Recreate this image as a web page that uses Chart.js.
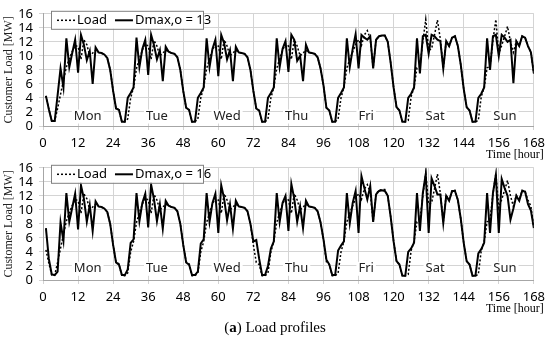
<!DOCTYPE html>
<html>
<head>
<meta charset="utf-8">
<script src="https://cdn.jsdelivr.net/npm/chart.js@4"></script>
<style>
  body { margin: 0; background: #fff; width: 550px; height: 344px; position: relative; overflow: hidden; }
  canvas { position: absolute; left: 0; }
  #caption { position: absolute; left: 0; width: 550px; top: 319px; text-align: center;
             font: 15px "Liberation Serif", "DejaVu Serif", serif; color: #000; }
</style>
</head>
<body>
<canvas id="chartTop" width="550" height="160" style="top:0px"></canvas>
<canvas id="chartBottom" width="550" height="160" style="top:154px"></canvas>
<div id="caption">(<b>a</b>) Load profiles</div>
<script>
// hourly values, hour 1..168, one line per day (Mon..Sun)
const hours = Array.from({ length: 168 }, (_, i) => i + 1);

const loadMW = [
  4.3, 2.4, 0.7, 0.7, 2.5, 4.5, 6.5, 8.4, 9.6, 10.6, 11.5, 11.3, 9.5, 12.3, 11.6, 10.0, 10.4, 10.8, 10.5, 10.4, 10.2, 9.7, 8.0, 5.0,
  2.5, 2.3, 0.6, 0.6, 1.0, 4.0, 5.5, 8.2, 9.6, 10.8, 11.7, 11.4, 9.5, 12.2, 11.4, 10.0, 10.4, 10.8, 10.6, 10.4, 10.3, 9.8, 8.0, 5.0,
  2.6, 2.3, 0.6, 0.6, 1.0, 4.0, 5.5, 8.2, 9.6, 10.8, 11.7, 11.4, 9.5, 12.3, 11.4, 10.0, 10.4, 10.8, 10.5, 10.4, 10.3, 9.8, 8.0, 5.0,
  2.5, 2.2, 0.6, 0.6, 1.0, 4.0, 5.5, 8.2, 9.6, 10.8, 11.7, 11.4, 9.5, 12.3, 11.4, 10.0, 10.4, 10.8, 10.5, 10.4, 10.3, 9.8, 8.2, 5.8,
  2.6, 2.2, 0.6, 0.6, 1.0, 4.0, 5.5, 8.3, 9.5, 10.6, 11.6, 12.3, 11.5, 13.0, 13.6, 12.5, 8.3, 12.3, 12.8, 12.9, 12.9, 12.0, 9.0, 5.5,
  2.7, 2.2, 0.6, 0.6, 0.8, 4.2, 5.5, 8.3, 8.5, 12.0, 15.2, 10.8, 11.0, 13.0, 15.1, 12.4, 8.3, 12.1, 11.4, 12.6, 12.8, 11.4, 8.7, 5.3,
  2.7, 2.2, 0.6, 0.6, 0.8, 4.2, 5.5, 8.3, 8.5, 12.2, 15.2, 10.3, 11.5, 12.8, 14.2, 12.0, 10.5, 12.1, 11.4, 12.8, 12.6, 11.4, 10.5, 7.5
];

const dmax13MW = [
  4.3, 2.4, 0.7, 0.7, 4.4, 8.2, 5.5, 12.5, 8.4, 10.4, 12.3, 7.6, 13.0, 11.6, 9.4, 10.7, 6.0, 11.2, 10.5, 10.4, 10.2, 9.7, 8.0, 5.0,
  2.5, 2.3, 0.6, 0.6, 4.0, 4.7, 5.5, 12.6, 8.4, 11.0, 12.3, 7.3, 13.0, 11.5, 9.5, 10.8, 6.4, 11.3, 10.6, 10.4, 10.3, 9.8, 8.0, 5.0,
  2.6, 2.3, 0.6, 0.6, 4.0, 4.7, 5.5, 12.5, 8.4, 11.0, 12.3, 7.1, 13.0, 11.8, 9.5, 10.8, 6.4, 11.3, 10.5, 10.4, 10.3, 9.8, 8.0, 5.0,
  2.5, 2.2, 0.6, 0.6, 4.0, 4.7, 5.5, 12.5, 8.4, 11.0, 12.1, 7.7, 13.0, 12.3, 9.3, 10.0, 6.4, 11.6, 10.5, 10.4, 10.3, 9.8, 8.2, 5.8,
  2.6, 2.2, 0.6, 0.6, 4.0, 4.7, 5.5, 12.5, 8.4, 11.0, 13.1, 8.2, 13.0, 12.6, 12.3, 12.8, 8.2, 12.3, 12.8, 12.9, 12.9, 12.0, 9.0, 5.5,
  2.7, 2.2, 0.6, 0.6, 4.0, 4.6, 5.5, 12.5, 7.5, 12.8, 13.0, 10.3, 13.0, 12.8, 12.3, 12.1, 8.2, 12.1, 11.4, 12.6, 12.8, 11.4, 8.7, 5.3,
  2.7, 2.2, 0.6, 0.6, 4.0, 4.6, 5.5, 12.5, 8.0, 12.8, 13.0, 10.0, 13.0, 12.6, 12.0, 12.3, 6.1, 12.1, 11.4, 12.8, 12.6, 11.4, 10.5, 7.5
];

const dmax16MW = [
  7.4, 3.0, 0.8, 0.7, 1.2, 8.2, 5.6, 12.4, 8.3, 10.3, 12.3, 7.2, 13.5, 11.6, 8.3, 10.7, 7.0, 11.2, 10.5, 10.4, 10.2, 9.7, 8.0, 5.0,
  2.5, 2.2, 0.7, 0.7, 1.5, 5.3, 5.8, 12.4, 8.4, 11.0, 12.3, 7.5, 13.6, 11.5, 8.4, 10.8, 7.3, 11.3, 10.6, 10.4, 10.3, 9.8, 8.0, 5.0,
  2.5, 2.2, 0.7, 0.7, 1.2, 5.2, 5.8, 12.4, 8.3, 11.0, 12.3, 6.7, 13.5, 11.6, 8.5, 10.8, 7.3, 11.3, 10.5, 10.4, 10.3, 9.8, 8.0, 5.5,
  5.7, 3.0, 0.7, 0.7, 2.0, 4.5, 5.5, 12.4, 8.3, 11.0, 12.0, 7.0, 13.7, 11.6, 8.3, 10.5, 7.4, 11.3, 10.5, 10.4, 10.3, 9.8, 8.2, 5.8,
  2.9, 2.2, 0.7, 0.7, 4.2, 4.9, 5.5, 12.4, 8.1, 11.0, 12.7, 6.7, 14.8, 13.1, 11.5, 13.4, 8.3, 12.2, 12.7, 12.8, 12.7, 12.0, 9.0, 5.5,
  2.7, 2.2, 0.6, 0.6, 4.0, 4.5, 5.3, 12.4, 7.0, 12.4, 15.1, 6.7, 14.5, 13.4, 12.2, 12.2, 8.1, 12.0, 11.3, 12.7, 12.7, 11.4, 8.7, 5.3,
  2.7, 2.2, 0.6, 0.6, 3.8, 4.4, 5.3, 12.4, 6.7, 12.4, 15.0, 6.7, 14.4, 13.1, 12.0, 8.6, 10.2, 12.0, 11.3, 12.7, 12.6, 10.8, 9.9, 7.4
];

const xTicks = [0, 12, 24, 36, 48, 60, 72, 84, 96, 108, 120, 132, 144, 156, 168];
const yTicks = [0, 2, 4, 6, 8, 10, 12, 14, 16];
const dayNames = ['Mon', 'Tue', 'Wed', 'Thu', 'Fri', 'Sat', 'Sun'];
const dayPos = [15.3, 39, 63, 86.8, 110.6, 134.2, 158.1];

const sansFont = '"Noto Sans", "Open Sans", sans-serif';
const serifFont = '"Liberation Serif", "DejaVu Serif", serif';

// day names written inside the plot, on a white patch
const dayLabels = {
  id: 'dayLabels',
  afterDatasetsDraw(chart, args, opts) {
    const { ctx, scales } = chart;
    ctx.save();
    ctx.font = '13px ' + sansFont;
    ctx.textAlign = 'center';
    ctx.textBaseline = 'middle';
    dayNames.forEach((name, i) => {
      const x = scales.x.getPixelForValue(dayPos[i]);
      const y = scales.y.getPixelForValue(opts.y);
      const w = ctx.measureText(name).width + 4;
      ctx.fillStyle = '#fff';
      ctx.fillRect(x - w / 2, y - 7, w, 14);
      ctx.fillStyle = '#222';
      ctx.fillText(name, x, y);
    });
    ctx.restore();
  }
};

// boxed legend sitting in the top-left corner of the plot
const boxLegend = {
  id: 'boxLegend',
  afterDraw(chart) {
    const { ctx, chartArea } = chart;
    const x0 = chartArea.left + 8, y0 = chartArea.top - 3;
    ctx.save();
    ctx.fillStyle = '#fff';
    ctx.fillRect(x0, y0, 152, 18);
    ctx.strokeStyle = '#808080';
    ctx.lineWidth = 1;
    ctx.strokeRect(x0 + 0.5, y0 + 0.5, 152, 18);
    ctx.font = '13px ' + sansFont;
    ctx.textBaseline = 'middle';
    let x = x0 + 6;
    const yc = y0 + 9.5;
    chart.data.datasets.forEach(ds => {
      ctx.strokeStyle = '#000';
      ctx.lineWidth = ds.borderWidth;
      ctx.setLineDash(ds.borderDash || []);
      ctx.beginPath();
      ctx.moveTo(x, yc);
      ctx.lineTo(x + 18, yc);
      ctx.stroke();
      ctx.setLineDash([]);
      ctx.fillStyle = '#000';
      ctx.fillText(ds.label, x + 20, yc);
      x += 20 + ctx.measureText(ds.label).width + 8;
    });
    ctx.restore();
  }
};

// "Time [hour]" right under the last x tick
const timeTitle = {
  id: 'timeTitle',
  afterDraw(chart) {
    const { ctx, chartArea } = chart;
    ctx.save();
    ctx.font = '12px ' + serifFont;
    ctx.fillStyle = '#000';
    ctx.textAlign = 'right';
    ctx.textBaseline = 'middle';
    ctx.fillText('Time [hour]', chartArea.right + 10, chartArea.bottom + 29);
    ctx.restore();
  }
};

function buildChart(id, dmaxValues, dmaxLabel, dayY) {
  return new Chart(document.getElementById(id).getContext('2d'), {
    type: 'line',
    data: {
      datasets: [
        {
          label: 'Load',
          data: hours.map((h, i) => ({ x: h, y: loadMW[i] })),
          borderColor: '#000',
          borderWidth: 1.5,
          borderDash: [2, 2],
          pointRadius: 0,
          tension: 0,
          order: 1
        },
        {
          label: dmaxLabel,
          data: hours.map((h, i) => ({ x: h, y: dmaxValues[i] })),
          borderColor: '#000',
          borderWidth: 2,
          pointRadius: 0,
          tension: 0,
          order: 0
        }
      ]
    },
    options: {
      responsive: false,
      animation: false,
      devicePixelRatio: 1,
      layout: { padding: { left: 0, right: 13, top: 10, bottom: 0 } },
      plugins: {
        legend: { display: false },
        tooltip: { enabled: false },
        dayLabels: { y: dayY }
      },
      scales: {
        x: {
          type: 'linear',
          min: 0,
          max: 168,
          afterBuildTicks: s => { s.ticks = xTicks.map(v => ({ value: v })); },
          afterFit: s => { s.height = 34; },
          grid: { color: '#d4d4d4', tickLength: 4 },
          border: { color: '#a6a6a6' },
          ticks: { color: '#000', font: { family: sansFont, size: 13 }, padding: 5, maxRotation: 0, autoSkip: false }
        },
        y: {
          min: 0,
          max: 16,
          afterBuildTicks: s => { s.ticks = yTicks.map(v => ({ value: v })); },
          afterFit: s => { s.width = 43; },
          grid: { color: '#d4d4d4', tickLength: 4 },
          border: { color: '#a6a6a6' },
          ticks: { color: '#000', font: { family: sansFont, size: 13 }, padding: 6, autoSkip: false },
          title: {
            display: true,
            text: 'Customer Load [MW]',
            color: '#222',
            font: { family: serifFont, size: 12 },
            padding: { top: 2, bottom: 0 }
          }
        }
      }
    },
    plugins: [dayLabels, boxLegend, timeTitle]
  });
}

buildChart('chartTop', dmax13MW, 'Dmax,o = 13', 1.35);
buildChart('chartBottom', dmax16MW, 'Dmax,o = 16', 1.6);
</script>
</body>
</html>
